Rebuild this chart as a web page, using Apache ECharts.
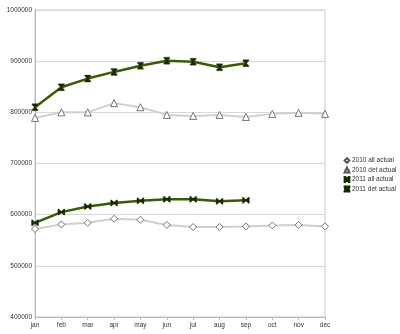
<!DOCTYPE html>
<html>
<head>
<meta charset="utf-8">
<script src="https://cdn.jsdelivr.net/npm/echarts@6/dist/echarts.min.js"></script>
<style>html,body{margin:0;padding:0;background:#fff}#c{width:400px;height:334px}</style>
</head>
<body>
<div id="c"></div>
<script>
var categories = ['jan','feb','mar','apr','may','jun','jul','aug','sep','oct','nov','dec'];
var all2010 = [572000,581000,584000,592000,590000,580000,576000,576000,577000,579000,580000,577000];
var det2010 = [789000,800000,800000,818000,810000,795000,793000,795000,791000,797000,799000,797000];
var all2011 = [584000,605000,616000,623000,627000,630000,630000,626000,628000];
var det2011 = [810000,849000,866000,879000,891000,901000,899000,888000,896000];
var seriesNames = ['2010 all actual','2010 det actual','2011 all actual','2011 det actual'];
var yTicks = {min:400000, max:1000000, interval:100000};

var bowtie = 'path://M0,0 L1.5,0 L5,3.8 L8.5,0 L10,0 L10,10 L8.5,10 L5,6.2 L1.5,10 L0,10 Z';
var hourglass = 'path://M0,0 L10,0 L10,1.5 L6.2,5 L10,8.5 L10,10 L0,10 L0,8.5 L3.8,5 L0,1.5 Z';

var chart = echarts.init(document.getElementById('c'), null, {renderer:'canvas'});
var lbl = {fontFamily:'Liberation Sans', fontSize:6.5, color:'#333'};
chart.setOption({
  animation:false,
  grid:{left:35, right:75, top:10, bottom:17, show:true, borderColor:'#c8c8dc', borderWidth:1},
  legend:{
    orient:'vertical', left:338, top:152, itemWidth:6, itemHeight:6, itemGap:2.5,
    textStyle:{fontFamily:'Liberation Sans', fontSize:6.5, color:'#333', padding:[0,0,0,-3]},
    data:seriesNames
  },
  xAxis:{
    type:'category', data:categories, boundaryGap:false,
    axisLine:{lineStyle:{color:'#b8b8b8'}},
    axisTick:{show:true, length:3, lineStyle:{color:'#b8b8b8'}},
    axisLabel:Object.assign({margin:5}, lbl),
    splitLine:{show:false}
  },
  yAxis:{
    type:'value', min:yTicks.min, max:yTicks.max, interval:yTicks.interval,
    axisLine:{show:true, lineStyle:{color:'#b8b8b8'}},
    axisTick:{show:false},
    axisLabel:Object.assign({margin:3, formatter:function(v){return String(v);}}, lbl),
    splitLine:{lineStyle:{color:'#d8d8d8'}}
  },
  series:[
    {name:seriesNames[0], type:'line', data:all2010, symbol:'diamond', symbolSize:7,
     lineStyle:{color:'#cfcfcf', width:2}, itemStyle:{color:'#fff', borderColor:'#555', borderWidth:0.8}},
    {name:seriesNames[1], type:'line', data:det2010, symbol:'triangle', symbolSize:7,
     lineStyle:{color:'#cfcfcf', width:2}, itemStyle:{color:'#fff', borderColor:'#555', borderWidth:0.8}},
    {name:seriesNames[2], type:'line', data:all2011, symbol:bowtie, symbolSize:[7,6],
     lineStyle:{color:'#3c5a05', width:2.5}, itemStyle:{color:'#1a2a00', borderColor:'#1a2a00', borderWidth:0.3}},
    {name:seriesNames[3], type:'line', data:det2011, symbol:hourglass, symbolSize:[6,7],
     lineStyle:{color:'#3c5a05', width:2.5}, itemStyle:{color:'#1a2a00', borderColor:'#1a2a00', borderWidth:0.3}}
  ]
});
</script>
</body>
</html>
